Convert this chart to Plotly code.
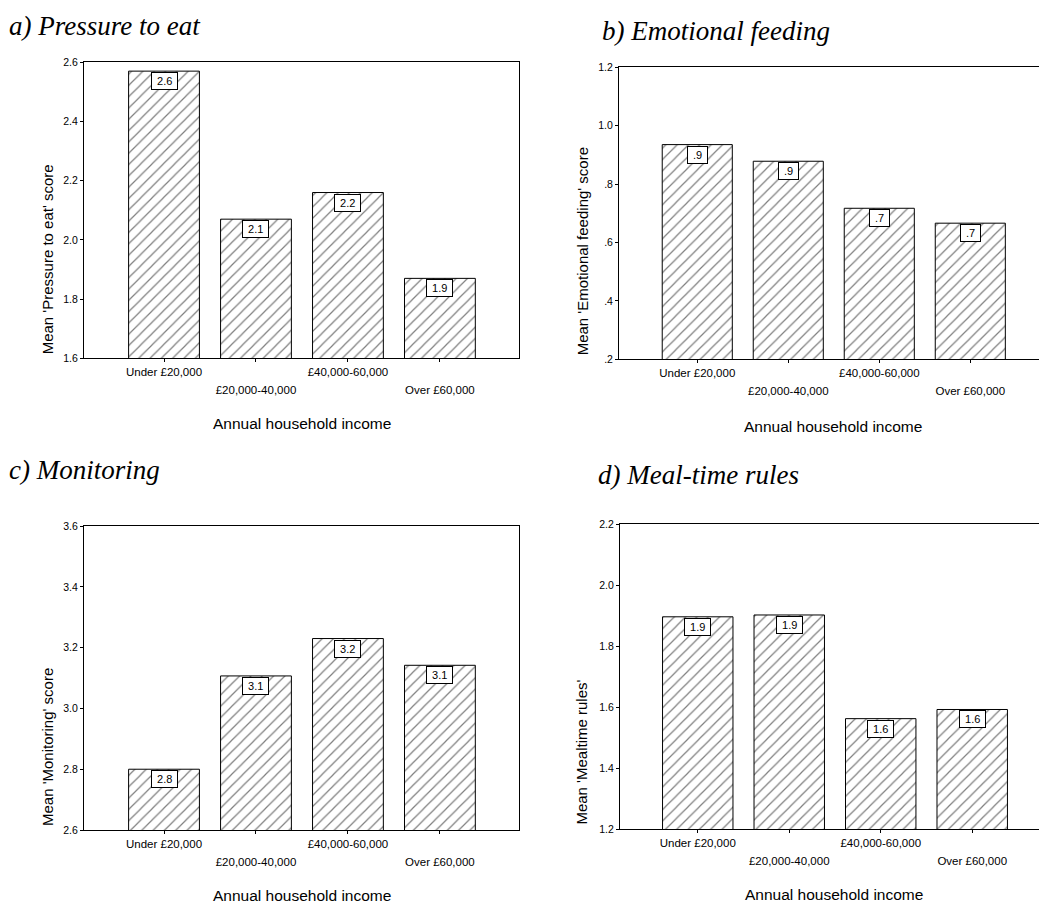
import plotly.graph_objects as go

# Income bands shared by all four panels
income_bands = ["Under £20,000", "£20,000-40,000", "£40,000-60,000", "Over £60,000"]

# Mean scores per income band
pressure_to_eat = [2.57, 2.07, 2.16, 1.87]
emotional_feeding = [0.935, 0.878, 0.717, 0.666]
monitoring = [2.80, 3.107, 3.23, 3.142]
mealtime_rules = [1.896, 1.902, 1.562, 1.592]

# Y-axis ticks per panel
pressure_ticks = [1.6, 1.8, 2.0, 2.2, 2.4, 2.6]
emotional_ticks = [0.2, 0.4, 0.6, 0.8, 1.0, 1.2]
monitoring_ticks = [2.6, 2.8, 3.0, 3.2, 3.4, 3.6]
mealtime_ticks = [1.2, 1.4, 1.6, 1.8, 2.0, 2.2]

panel_titles = ["a) Pressure to eat", "b) Emotional feeding", "c) Monitoring", "d) Meal-time rules"]
y_titles = ["Mean 'Pressure to eat' score", "Mean 'Emotional feeding' score",
            "Mean 'Monitoring' score", "Mean 'Mealtime rules'"]
x_title = "Annual household income"

W, H = 1039, 913
SANS = "Liberation Sans, Arial, sans-serif"
SERIF = "Liberation Serif, Times New Roman, serif"


def fx(px):
    return px / W


def fy(py):
    return 1 - py / H


def fmt(v):
    s = f"{v:.1f}"
    return s[1:] if s.startswith("0") else s


# pixel frames of each panel: left, right, top, bottom
frames = [(84, 519, 57, 357), (619, 1039, 62, 358), (84, 519, 527, 835), (620, 1039, 525, 834)]
x_ranges = [[-0.87, 3.86], [-0.86, 3.755], [-0.87, 3.86], [-0.85, 3.73]]
series = [pressure_to_eat, emotional_feeding, monitoring, mealtime_rules]
ticks = [pressure_ticks, emotional_ticks, monitoring_ticks, mealtime_ticks]
title_pos = [(7, 20), (600, 25), (7, 470), (596, 475)]
ytitle_x = [47, 582, 47, 582]
xtitle_y = [423, 426, 901, 900]

fig = go.Figure()
annotations = []
layout = {}

for i in range(4):
    n = "" if i == 0 else str(i + 1)
    left, right, top, bottom = frames[i]
    vals = series[i]
    fig.add_trace(go.Bar(
        x=income_bands, y=vals,
        xaxis="x" + n, yaxis="y" + n,
        marker=dict(color="white", line=dict(color="black", width=1),
                    pattern=dict(shape="/", fgcolor="black", bgcolor="white",
                                 size=8, solidity=0.15)),
        showlegend=False, hoverinfo="x+y",
    ))
    # empty trace so the overlaid label axis gets drawn
    fig.add_trace(go.Scatter(
        x=[None], y=[None], xaxis="x" + str(i + 5), yaxis="y" + n,
        showlegend=False, hoverinfo="skip", mode="markers",
    ))
    yr = [ticks[i][0], ticks[i][-1]]
    layout["xaxis" + n] = dict(
        domain=[fx(left), fx(right)], anchor="y" + n, type="category",
        categoryorder="array", categoryarray=income_bands,
        range=x_ranges[i], showline=True, linecolor="black", linewidth=1,
        mirror=True, ticks="outside", ticklen=3, tickcolor="black",
        tickvals=income_bands,
        ticktext=[income_bands[0], "", income_bands[2], ""],
        tickfont=dict(family=SANS, size=11.5, color="black"),
        showgrid=False, zeroline=False, fixedrange=True,
    )
    # second row of staggered category labels
    layout["xaxis" + str(i + 5)] = dict(
        overlaying="x" + n, anchor="y" + n, side="bottom", type="linear",
        range=x_ranges[i], tickvals=[1, 3],
        ticktext=[income_bands[1], income_bands[3]],
        ticks="outside", ticklen=3, tickcolor="rgba(0,0,0,0)",
        ticklabelstandoff=18, showline=False, showgrid=False, zeroline=False,
        tickfont=dict(family=SANS, size=11.5, color="black"), fixedrange=True,
    )
    layout["yaxis" + n] = dict(
        domain=[fy(bottom), fy(top)], anchor="x" + n, range=yr,
        showline=True, linecolor="black", linewidth=1,
        mirror=(i % 2 == 0), ticks="outside", ticklen=3, tickcolor="black",
        tickvals=ticks[i], ticktext=[fmt(t) for t in ticks[i]],
        tickfont=dict(family=SANS, size=10.5, color="black"),
        showgrid=False, zeroline=False, fixedrange=True,
    )
    # value boxes just under the top of each bar
    for cat, v in zip(income_bands, vals):
        annotations.append(dict(
            x=cat, y=v, xref="x" + n, yref="y" + n, text=" " + fmt(v) + " ",
            showarrow=False, yanchor="top", xanchor="center", yshift=-1,
            bgcolor="white", bordercolor="black", borderwidth=1, borderpad=2,
            font=dict(family=SANS, size=11, color="black"),
        ))
    # panel heading
    tx, ty = title_pos[i]
    annotations.append(dict(
        x=fx(tx), y=fy(ty), xref="paper", yref="paper", text="<i>" + panel_titles[i] + "</i>",
        showarrow=False, xanchor="left", yanchor="middle",
        font=dict(family=SERIF, size=27, color="black"),
    ))
    # axis titles
    annotations.append(dict(
        x=fx(ytitle_x[i]), y=fy(bottom - 2), xref="paper", yref="paper",
        text=y_titles[i], textangle=-90, showarrow=False,
        xanchor="center", yanchor="bottom",
        font=dict(family=SANS, size=15, color="black"),
    ))
    annotations.append(dict(
        x=fx((left + right) / 2 + (4 if i % 2 else 0)), y=fy(xtitle_y[i]),
        xref="paper", yref="paper", text=x_title, showarrow=False,
        xanchor="center", yanchor="middle",
        font=dict(family=SANS, size=15.5, color="black"),
    ))

fig.update_layout(
    width=W, height=H, margin=dict(l=0, r=0, t=0, b=0),
    paper_bgcolor="white", plot_bgcolor="white",
    bargap=0.23, annotations=annotations, **layout,
)

fig.write_html("out.html", config={"displayModeBar": False})
